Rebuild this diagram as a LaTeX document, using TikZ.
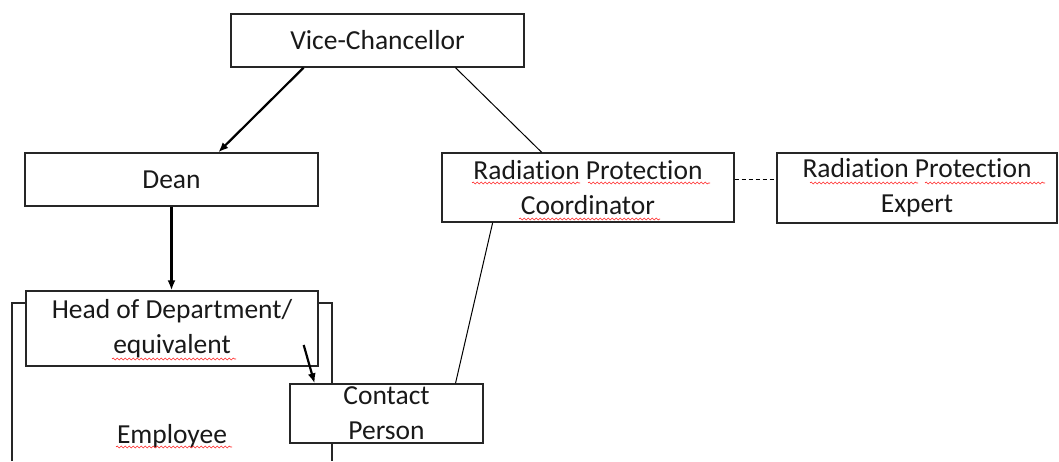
\documentclass[tikz,border=0pt]{standalone}
\usepackage{fontspec}
\setmainfont[RawFeature={-liga;-clig;-dlig;-calt}]{Carlito}
\usetikzlibrary{arrows.meta,calc,decorations.pathmorphing}
\begin{document}
\begin{tikzpicture}[x=1pt,y=-1pt,
  box/.style={draw=black!85,line width=1.4pt,fill=white,inner sep=0pt,align=center,
    font=\fontsize{27.5}{35}\selectfont,text=black!90},
  arr/.style={line width=2.2pt,-{Latex[length=10pt,width=8pt]}},
  thinline/.style={line width=1pt},
  squig/.style={red!85,line width=0.6pt,decorate,decoration={snake,segment length=4pt,amplitude=1pt}}]
\useasboundingbox (0,0) rectangle (1059,461);
% employee frame
\draw[line width=1.4pt,black!85] (12,461) -- (12,303) -- (332,303) -- (332,461);
\node[box,minimum width=293pt,minimum height=53pt] (vc) at (377.5,40.5) {Vice-Chancellor};
\node[box,minimum width=293pt,minimum height=53pt] (dean) at (171.5,179.5) {Dean};
\node[box,minimum width=292pt,minimum height=69pt] (rpc) at (588,187.5) {Radiation Protection\\Coordinator};
\node[box,minimum width=280pt,minimum height=70pt] (rpe) at (917,188) {Radiation Protection\\Expert};
\node[box,minimum width=292pt,minimum height=75pt] (hod) at (172,328.5) {Head of Department/\\equivalent};
\node[box,minimum width=193pt,minimum height=59pt] (cp) at (386.5,413.5) {Contact\\Person};
\node[font=\fontsize{27.5}{35}\selectfont,text=black!90,inner sep=0pt] (emp) at (172,436) {Employee};
% connectors
\draw[arr] ($(vc.south west)!0.249!(vc.south east)$) -- ($(dean.north west)!0.659!(dean.north east)$);
\draw[thinline] ($(vc.south west)!0.765!(vc.south east)$) -- ($(rpc.north west)!0.342!(rpc.north east)$);
\draw[arr] (dean.south) -- (dean.south |- hod.north);
\draw[thinline,dash pattern=on 4pt off 3pt] ($(rpc.east)+(0,-8.5)$) -- ($(rpe.west)+(0,-9)$);
\draw[thinline] ($(rpc.south west)!0.175!(rpc.south east)$) -- ($(cp.north west)!0.855!(cp.north east)$);
\draw[arr] ($(hod.east)+(-15,16.5)$) -- ($(cp.north west)!0.13!(cp.north east)$);
% spell-check underlines
\draw[squig] (472,183) -- (580,183);
\draw[squig] (588,183) -- (710,183);
\draw[squig] (519,219) -- (660,219);
\draw[squig] (810,183) -- (918,183);
\draw[squig] (925,183) -- (1045,183);
\draw[squig] (112,359) -- (236,359);
\draw[squig] (116,447) -- (232,447);
\end{tikzpicture}
\end{document}
